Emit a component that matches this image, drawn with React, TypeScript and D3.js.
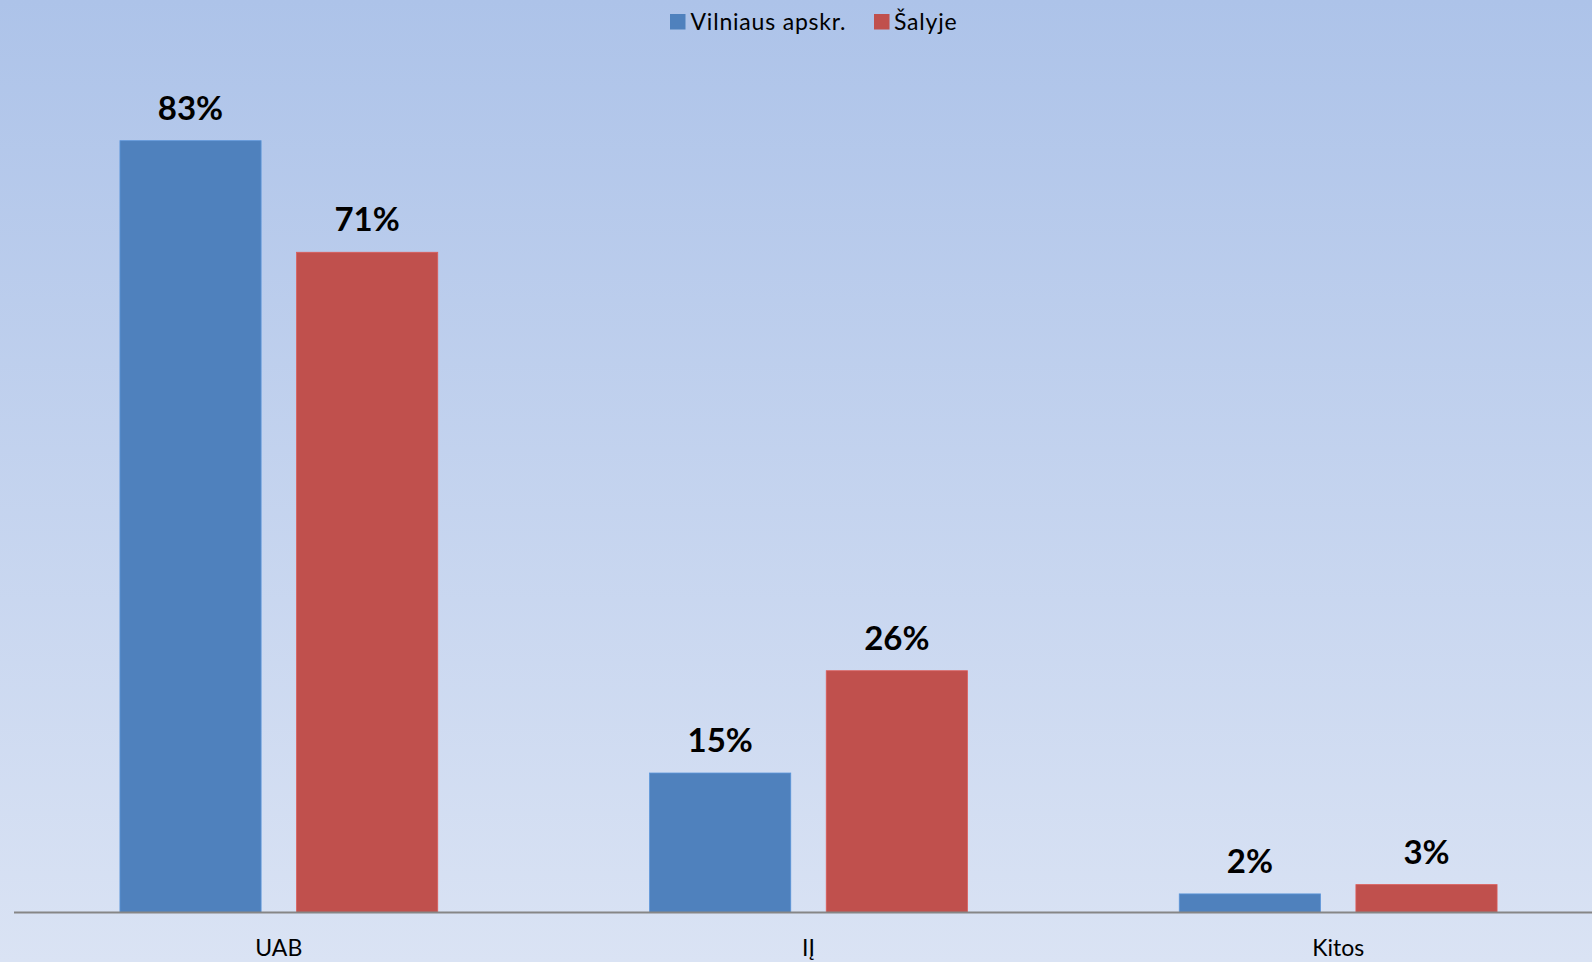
import React from "react";
import * as d3 from "d3";

const categories = ["UAB", "IĮ", "Kitos"];
const seriesNames = ["Vilniaus apskr.", "Šalyje"];
const vilniausValues = [0.83, 0.15, 0.02];
const salyjeValues = [0.71, 0.26, 0.03];
const seriesColors = ["#4f81bd", "#c0504d"];

const W = 1592;
const H = 962;

export default function App() {
  const plotLeft = 14;
  const plotRight = 1603;
  const baseline = 912.5;
  const x = d3.scaleBand<string>().domain(categories).range([plotLeft, plotRight]).paddingInner(0).paddingOuter(0);
  const step = x.bandwidth();
  const barW = step * 0.2665;
  const gap = step * 0.067;
  const groupW = barW * 2 + gap;
  const y = d3.scaleLinear().domain([0, 0.9]).range([baseline, baseline - 0.9 * 929.9]);
  const series = [vilniausValues, salyjeValues];
  const fmt = d3.format(".0%");

  return (
    <svg
      width={W}
      height={H}
      style={{ position: "absolute", left: 0, top: 0, display: "block" }}
      fontFamily="Lato, 'Open Sans', sans-serif"
    >
      <defs>
        <linearGradient id="bg" x1="0" y1="0" x2="0" y2="1">
          <stop offset="0%" stopColor="#adc3e9" />
          <stop offset="100%" stopColor="#dae3f4" />
        </linearGradient>
      </defs>
      <rect x={0} y={0} width={W} height={H} fill="url(#bg)" />

      {categories.map((c, ci) => {
        const gx = (x(c) as number) + (step - groupW) / 2;
        return (
          <g key={c}>
            {series.map((vals, si) => {
              const bx = gx + si * (barW + gap);
              const top = y(vals[ci]);
              return (
                <g key={si}>
                  <rect
                    x={bx}
                    y={top}
                    width={barW}
                    height={baseline - top}
                    fill={seriesColors[si]}
                    stroke={d3.color(seriesColors[si])!.brighter(0.4).toString()}
                    strokeWidth={0.8}
                  />
                  <text
                    x={bx + barW / 2}
                    y={top - 21}
                    textAnchor="middle"
                    fontWeight="bold"
                    fontSize={33}
                    fill="#000"
                  >
                    {fmt(vals[ci])}
                  </text>
                </g>
              );
            })}
            <text
              x={(x(c) as number) + step / 2}
              y={955.5}
              textAnchor="middle"
              fontSize={23}
              fill="#000"
            >
              {c}
            </text>
          </g>
        );
      })}

      <line x1={plotLeft} x2={W} y1={baseline} y2={baseline} stroke="#868686" strokeWidth={2} />

      <g>
        <rect x={670} y={14} width={15.5} height={15.5} fill={seriesColors[0]} />
        <text x={690.5} y={29.5} fontSize={23} letterSpacing={0.8} fill="#000">{seriesNames[0]}</text>
        <rect x={874} y={14} width={15.5} height={15.5} fill={seriesColors[1]} />
        <text x={894} y={29.5} fontSize={23} letterSpacing={0.8} fill="#000">{seriesNames[1]}</text>
      </g>
    </svg>
  );
}
